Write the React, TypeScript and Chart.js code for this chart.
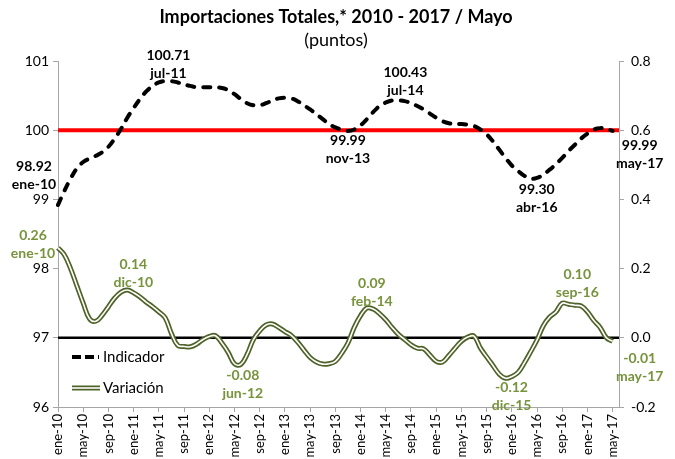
import React, { useEffect, useRef } from "react";
import { Chart, registerables } from "chart.js";
Chart.register(...registerables);

const FONT = "Lato, 'Noto Sans', sans-serif";

const MONTHS = ["ene", "feb", "mar", "abr", "may", "jun", "jul", "ago", "sep", "oct", "nov", "dic"];
const YEARS = ["10", "11", "12", "13", "14", "15", "16", "17"];
// ene-10 .. jun-17 (the last category is an empty slot after may-17)
const CATEGORIES = YEARS.flatMap((y) => MONTHS.map((m) => `${m}-${y}`)).slice(0, 90);

const INDICADOR = [
  98.92, 99.12, 99.3, 99.45, 99.54, 99.59, 99.63, 99.68, 99.76, 99.88, 100.02, 100.18,
  100.32, 100.45, 100.56, 100.64, 100.69, 100.71, 100.71, 100.69, 100.66, 100.64, 100.62, 100.62,
  100.62, 100.62, 100.61, 100.58, 100.52, 100.45, 100.39, 100.36, 100.36, 100.39, 100.43, 100.46,
  100.47, 100.46, 100.42, 100.36, 100.3, 100.23, 100.16, 100.09, 100.04, 100.01, 99.99, 100.01,
  100.07, 100.16, 100.26, 100.35, 100.4, 100.43, 100.43, 100.42, 100.39, 100.35, 100.3, 100.24,
  100.18, 100.13, 100.1, 100.09, 100.09, 100.08, 100.06, 100.01, 99.94, 99.84, 99.72, 99.6,
  99.49, 99.41, 99.34, 99.3, 99.31, 99.36, 99.43, 99.51, 99.6, 99.7, 99.79, 99.88,
  99.95, 100.01, 100.03, 100.02, 99.99,
];

const VARIACION = [
  0.26, 0.24, 0.2, 0.15, 0.1, 0.055, 0.048, 0.065, 0.09, 0.115, 0.132, 0.138,
  0.13, 0.118, 0.103, 0.09, 0.075, 0.058, 0.012, -0.022, -0.025, -0.026, -0.018, -0.005,
  0.004, 0.006, -0.015, -0.042, -0.075, -0.077, -0.048, -0.005, 0.02, 0.037, 0.04, 0.03,
  0.018, 0.007, -0.012, -0.035, -0.057, -0.07, -0.076, -0.075, -0.068, -0.045, -0.015, 0.03,
  0.064, 0.086, 0.083, 0.07, 0.052, 0.03, 0.01, -0.005, -0.02, -0.03, -0.032, -0.05,
  -0.068, -0.07, -0.051, -0.03, -0.01, 0.002, 0.005, -0.029, -0.055, -0.08, -0.105, -0.117,
  -0.112, -0.1, -0.072, -0.04, -0.006, 0.035, 0.06, 0.075, 0.1, 0.097, 0.094, 0.092,
  0.075, 0.05, 0.03, 0.0, -0.01,
];

const LEFT_TICKS = [96, 97, 98, 99, 100, 101];
const RIGHT_TICKS = [-0.2, 0, 0.2, 0.4, 0.6, 0.8];
const REF_INDICADOR = 100;
const REF_VARIACION = 0;

const TITLE = "Importaciones Totales,* 2010 - 2017 / Mayo";
const SUBTITLE = "(puntos)";

// annotated points: index into series, label offsets
const INDICADOR_NOTES = [
  { i: 0, dx: -24, dy: -38 },
  { i: 18, dx: -3, dy: -26 },
  { i: 46, dx: 0, dy: 10 },
  { i: 54, dx: 7, dy: -28 },
  { i: 75, dx: 6, dy: 11 },
  { i: 88, dx: 27, dy: 15 },
];
const VARIACION_NOTES = [
  { i: 0, dx: -25, dy: -12 },
  { i: 11, dx: 6, dy: -26 },
  { i: 29, dx: 2, dy: 11 },
  { i: 49, dx: 5, dy: -25 },
  { i: 71, dx: 6, dy: 9 },
  { i: 80, dx: 15, dy: -29 },
  { i: 88, dx: 27, dy: 17 },
];

const OLIVE_LINE = "#4F6228";
const OLIVE_TEXT = "#77933C";
const AXIS_GREY = "#A6A6A6";

const decorPlugin = {
  id: "decor",
  beforeDatasetsDraw(chart: any) {
    const { ctx, chartArea, scales } = chart;
    ctx.save();
    const yr = scales.y.getPixelForValue(REF_INDICADOR);
    ctx.strokeStyle = "#FF0000";
    ctx.lineWidth = 4;
    ctx.beginPath();
    ctx.moveTo(chartArea.left, yr);
    ctx.lineTo(chartArea.right, yr);
    ctx.stroke();
    const y0 = scales.y2.getPixelForValue(REF_VARIACION);
    ctx.strokeStyle = "#000000";
    ctx.lineWidth = 2.5;
    ctx.beginPath();
    ctx.moveTo(chartArea.left, y0);
    ctx.lineTo(chartArea.right, y0);
    ctx.stroke();
    ctx.restore();
  },
  afterDraw(chart: any) {
    const { ctx, chartArea, scales } = chart;
    ctx.save();
    ctx.fillStyle = "#000";
    ctx.textAlign = "center";
    ctx.textBaseline = "middle";
    ctx.font = `bold 18px ${FONT}`;
    ctx.fillText(TITLE, 336, 17);
    ctx.font = `18px ${FONT}`;
    ctx.fillText(SUBTITLE, 336, 40);

    ctx.font = `bold 14px ${FONT}`;
    INDICADOR_NOTES.forEach((n) => {
      const px = scales.x.getPixelForValue(n.i);
      const py = scales.y.getPixelForValue(INDICADOR[n.i]);
      ctx.fillStyle = "#000";
      ctx.fillText(INDICADOR[n.i].toFixed(2), px + n.dx, py + n.dy);
      ctx.fillText(CATEGORIES[n.i], px + n.dx, py + n.dy + 18);
    });
    VARIACION_NOTES.forEach((n) => {
      const px = scales.x.getPixelForValue(n.i);
      const py = scales.y2.getPixelForValue(VARIACION[n.i]);
      ctx.fillStyle = OLIVE_TEXT;
      ctx.fillText(VARIACION[n.i].toFixed(2), px + n.dx, py + n.dy);
      ctx.fillText(CATEGORIES[n.i], px + n.dx, py + n.dy + 18);
    });

    const lx = chartArea.left + 14;
    const l1 = chartArea.top + 296;
    const l2 = chartArea.top + 327;
    ctx.lineCap = "butt";
    ctx.strokeStyle = "#000";
    ctx.lineWidth = 4;
    ctx.setLineDash([9, 4]);
    ctx.beginPath();
    ctx.moveTo(lx, l1);
    ctx.lineTo(lx + 27, l1);
    ctx.stroke();
    ctx.setLineDash([]);
    ctx.strokeStyle = OLIVE_LINE;
    ctx.lineWidth = 5;
    ctx.beginPath();
    ctx.moveTo(lx, l2);
    ctx.lineTo(lx + 28, l2);
    ctx.stroke();
    ctx.strokeStyle = "#fff";
    ctx.lineWidth = 1.6;
    ctx.beginPath();
    ctx.moveTo(lx, l2);
    ctx.lineTo(lx + 28, l2);
    ctx.stroke();
    ctx.fillStyle = "#000";
    ctx.textAlign = "left";
    ctx.font = `15px ${FONT}`;
    ctx.fillText("Indicador", lx + 31, l1);
    ctx.fillText("Variación", lx + 31, l2);
    ctx.restore();
  },
};

export default function App() {
  const ref = useRef<HTMLCanvasElement | null>(null);
  useEffect(() => {
    if (!ref.current) return;
    const gridCfg = {
      display: true,
      drawOnChartArea: false,
      drawTicks: true,
      tickLength: 5,
      color: AXIS_GREY,
    };
    const chart = new Chart(ref.current, {
      type: "line",
      data: {
        labels: CATEGORIES,
        datasets: [
          {
            label: "Variación",
            data: VARIACION,
            yAxisID: "y2",
            borderColor: "#FFFFFF",
            borderWidth: 1.6,
            pointRadius: 0,
            tension: 0.4,
            fill: false,
            order: 0,
          },
          {
            label: "Variación borde",
            data: VARIACION,
            yAxisID: "y2",
            borderColor: OLIVE_LINE,
            borderWidth: 5,
            pointRadius: 0,
            tension: 0.4,
            fill: false,
            order: 1,
          },
          {
            label: "Indicador",
            data: INDICADOR,
            yAxisID: "y",
            borderColor: "#000000",
            borderWidth: 4,
            borderDash: [7, 9],
            borderCapStyle: "round",
            pointRadius: 0,
            tension: 0.4,
            fill: false,
            order: 2,
          },
        ],
      },
      options: {
        animation: false,
        responsive: false,
        devicePixelRatio: 1,
        layout: { padding: { top: 61, left: 0, right: 0, bottom: 0 } },
        plugins: {
          legend: { display: false },
          title: { display: false },
          tooltip: { enabled: false },
        },
        scales: {
          x: {
            type: "category",
            offset: false,
            grid: { ...gridCfg, offset: false },
            border: { display: true, color: AXIS_GREY, width: 1 },
            ticks: {
              autoSkip: false,
              maxRotation: 90,
              minRotation: 90,
              padding: 2,
              color: "#000",
              font: { family: FONT, size: 13 },
              callback: (_v: any, i: number) => (i % 4 === 0 ? CATEGORIES[i] : null),
            },
            afterFit: (s: any) => {
              s.height = 52;
            },
          },
          y: {
            type: "linear",
            position: "left",
            min: 96,
            max: 101,
            grid: gridCfg,
            border: { display: true, color: AXIS_GREY, width: 1 },
            afterBuildTicks: (s: any) => {
              s.ticks = LEFT_TICKS.map((v) => ({ value: v }));
            },
            ticks: {
              color: "#000",
              padding: 4,
              font: { family: FONT, size: 14 },
              callback: (v: any) => String(v),
            },
            afterFit: (s: any) => {
              s.width = 58;
            },
          },
          y2: {
            type: "linear",
            position: "right",
            min: -0.2,
            max: 0.8,
            grid: gridCfg,
            border: { display: true, color: AXIS_GREY, width: 1 },
            afterBuildTicks: (s: any) => {
              s.ticks = RIGHT_TICKS.map((v) => ({ value: v }));
            },
            ticks: {
              color: "#000",
              padding: 7,
              font: { family: FONT, size: 14 },
              callback: (v: any) => Number(v).toFixed(1),
            },
            afterFit: (s: any) => {
              s.width = 56;
            },
          },
        },
      },
      plugins: [decorPlugin],
    } as any);
    return () => chart.destroy();
  }, []);
  return (
    <div style={{ position: "absolute", left: 0, top: 0, width: 675, height: 459, background: "#fff" }}>
      <canvas ref={ref} width={675} height={459} style={{ width: 675, height: 459 }} />
    </div>
  );
}
